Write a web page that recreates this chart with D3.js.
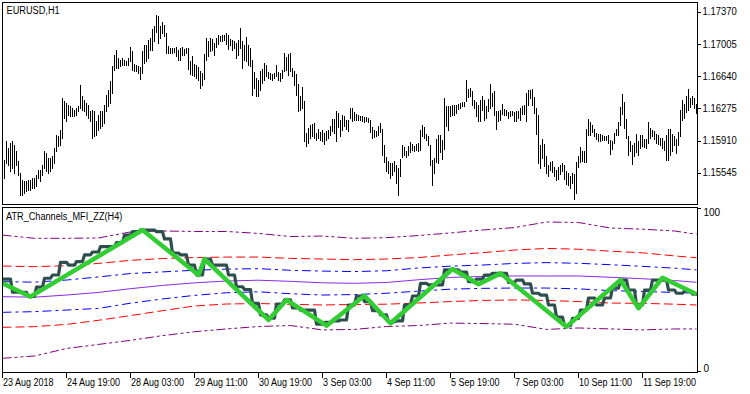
<!DOCTYPE html>
<html><head><meta charset="utf-8">
<script src="https://cdn.jsdelivr.net/npm/d3@7"></script>
<style>
html,body{margin:0;padding:0;background:#fff;}
svg{display:block;}
text{font-family:"Liberation Sans",Arial,sans-serif;font-size:10px;fill:#000;}
</style></head><body>
<svg id="c" width="750" height="394"></svg>
<script>
// ---------------- DATA ----------------
const symbolTitle = "EURUSD,H1";
const indicatorTitle = "ATR_Channels_MFI_ZZ(H4)";

// H1 bars (23 Aug 2018 11:00 ... 12 Sep 2018 21:00)
const highs = [
1.15718,1.15695,1.15911,1.15831,1.15888,1.15911,1.15865,1.15797,1.15684,1.15548,
1.15469,1.15457,1.15457,1.15469,1.15469,1.15491,1.15491,1.15525,1.15582,1.15582,
1.15639,1.15797,1.15775,1.15718,1.15718,1.15741,1.15831,1.15979,1.15967,1.16035,
1.16398,1.16364,1.16341,1.16319,1.16307,1.16285,1.16262,1.16285,1.16307,1.16545,
1.16421,1.16375,1.16341,1.16319,1.16251,1.16262,1.16251,1.16137,1.16205,1.16251,
1.16251,1.16319,1.16432,1.16489,1.16591,1.16761,1.16885,1.16942,1.16851,1.16829,
1.16851,1.16829,1.16817,1.16851,1.16976,1.16931,1.16783,1.16772,1.16761,1.16749,
1.16931,1.16999,1.16999,1.17056,1.17078,1.17180,1.17214,1.17339,1.17328,1.17214,
1.17260,1.17226,1.17135,1.16988,1.16965,1.16965,1.16965,1.16976,1.16942,1.16965,
1.16976,1.16954,1.16965,1.16965,1.16817,1.16874,1.16783,1.16772,1.16749,1.16704,
1.16681,1.16897,1.17078,1.17044,1.17078,1.17067,1.17022,1.17078,1.17112,1.17101,
1.17112,1.17112,1.17135,1.17112,1.17067,1.17056,1.17044,1.17022,1.17056,1.17192,
1.17044,1.16999,1.17090,1.16999,1.16965,1.16829,1.16693,1.16625,1.16602,1.16704,
1.16727,1.16795,1.16772,1.16693,1.16681,1.16670,1.16681,1.16772,1.16693,1.16681,
1.16715,1.16908,1.16863,1.16897,1.16908,1.16738,1.16704,1.16670,1.16557,1.16421,
1.16523,1.16364,1.16001,1.16058,1.16092,1.16103,1.16115,1.16001,1.16047,1.16013,
1.16035,1.16001,1.16024,1.16035,1.16081,1.16160,1.16160,1.16251,1.16228,1.16149,
1.16205,1.16194,1.16149,1.16149,1.16285,1.16285,1.16239,1.16217,1.16205,1.16194,
1.16194,1.16183,1.16183,1.16171,1.16149,1.16069,1.16035,1.16024,1.16081,1.16115,
1.16047,1.15865,1.15729,1.15684,1.15661,1.15661,1.15684,1.15639,1.15605,1.15707,
1.15865,1.15843,1.15797,1.15854,1.15899,1.15877,1.15854,1.15877,1.15888,1.16035,
1.16092,1.16069,1.15990,1.15967,1.15865,1.15695,1.15718,1.15933,1.15979,1.15979,
1.15922,1.16398,1.16307,1.16307,1.16307,1.16319,1.16319,1.16319,1.16330,1.16341,
1.16353,1.16353,1.16602,1.16500,1.16511,1.16477,1.16375,1.16353,1.16319,1.16375,
1.16421,1.16375,1.16307,1.16387,1.16557,1.16455,1.16477,1.16251,1.16251,1.16262,
1.16330,1.16273,1.16262,1.16239,1.16251,1.16251,1.16239,1.16251,1.16251,1.16285,
1.16307,1.16319,1.16455,1.16489,1.16489,1.16500,1.16409,1.16285,1.16205,1.15865,
1.15933,1.15877,1.15741,1.15639,1.15673,1.15684,1.15616,1.15582,1.15616,1.15639,
1.15661,1.15639,1.15571,1.15548,1.15514,1.15548,1.15537,1.15673,1.15741,1.15843,
1.15797,1.15797,1.16047,1.16160,1.16126,1.16092,1.16047,1.16001,1.15990,1.15990,
1.15979,1.15967,1.15967,1.15979,1.15922,1.15911,1.16001,1.16047,1.16126,1.16296,
1.16443,1.16353,1.16160,1.15967,1.15911,1.15865,1.15888,1.15990,1.15911,1.15979,
1.15979,1.15933,1.15933,1.16126,1.16058,1.16035,1.16024,1.15990,1.15979,1.15945,
1.15945,1.15911,1.15979,1.16047,1.16047,1.15990,1.15967,1.15933,1.16013,1.16262,
1.16375,1.16330,1.16421,1.16500,1.16398,1.16421,1.16398,1.16330];
const lows = [
1.15514,1.15491,1.15661,1.15639,1.15571,1.15605,1.15548,1.15639,1.15525,1.15299,
1.15299,1.15321,1.15344,1.15355,1.15355,1.15378,1.15378,1.15401,1.15491,1.15457,
1.15525,1.15605,1.15571,1.15548,1.15571,1.15605,1.15661,1.15797,1.15854,1.15865,
1.15945,1.16171,1.16137,1.16205,1.16194,1.16194,1.16194,1.16205,1.16251,1.16285,
1.16262,1.16251,1.16205,1.16171,1.16137,1.15945,1.15967,1.15979,1.16035,1.16058,
1.16081,1.16115,1.16251,1.16307,1.16341,1.16455,1.16715,1.16738,1.16738,1.16761,
1.16772,1.16772,1.16772,1.16772,1.16817,1.16715,1.16704,1.16704,1.16681,1.16613,
1.16681,1.16795,1.16817,1.16851,1.16942,1.16942,1.17044,1.17146,1.17022,1.17078,
1.17135,1.17101,1.16908,1.16908,1.16908,1.16908,1.16920,1.16874,1.16829,1.16829,
1.16885,1.16885,1.16908,1.16727,1.16670,1.16659,1.16647,1.16625,1.16602,1.16511,
1.16545,1.16613,1.16829,1.16874,1.16931,1.16942,1.16885,1.16976,1.17010,1.17044,
1.17044,1.17056,1.17010,1.16954,1.16999,1.16942,1.16965,1.16851,1.16885,1.16965,
1.16738,1.16829,1.16817,1.16772,1.16761,1.16432,1.16511,1.16421,1.16421,1.16489,
1.16568,1.16602,1.16647,1.16625,1.16613,1.16602,1.16625,1.16647,1.16602,1.16591,
1.16625,1.16704,1.16715,1.16659,1.16704,1.16647,1.16545,1.16432,1.16251,1.16262,
1.16285,1.15911,1.15854,1.15888,1.15945,1.15967,1.15945,1.15922,1.15945,1.15922,
1.15911,1.15877,1.15922,1.15945,1.15979,1.16024,1.16001,1.15911,1.16069,1.15967,
1.16035,1.16081,1.16047,1.16024,1.16171,1.16137,1.16149,1.16149,1.16149,1.16149,
1.16137,1.16126,1.16137,1.16126,1.16013,1.15945,1.15956,1.15967,1.15979,1.16013,
1.15752,1.15673,1.15571,1.15548,1.15491,1.15525,1.15571,1.15435,1.15299,1.15514,
1.15729,1.15752,1.15729,1.15752,1.15786,1.15809,1.15797,1.15809,1.15797,1.15809,
1.15967,1.15945,1.15922,1.15865,1.15639,1.15412,1.15548,1.15673,1.15661,1.15786,
1.15707,1.15820,1.16081,1.16035,1.16194,1.16205,1.16205,1.16228,1.16273,1.16285,
1.16307,1.16307,1.16364,1.16409,1.16421,1.16319,1.16285,1.16194,1.16137,1.16137,
1.16262,1.16149,1.16171,1.16251,1.16285,1.16307,1.16205,1.16047,1.16137,1.16149,
1.16217,1.16205,1.16205,1.16171,1.16194,1.16205,1.16137,1.16137,1.16171,1.16149,
1.16217,1.16217,1.16137,1.16319,1.16398,1.16319,1.16228,1.15990,1.15661,1.15605,
1.15718,1.15627,1.15548,1.15514,1.15582,1.15559,1.15514,1.15469,1.15480,1.15537,
1.15571,1.15480,1.15423,1.15412,1.15378,1.15435,1.15253,1.15321,1.15616,1.15673,
1.15684,1.15673,1.15673,1.15979,1.15979,1.16013,1.15967,1.15933,1.15911,1.15911,
1.15922,1.15922,1.15922,1.15888,1.15763,1.15820,1.15888,1.15979,1.15979,1.16092,
1.16217,1.16058,1.15945,1.15752,1.15797,1.15650,1.15741,1.15786,1.15752,1.15831,
1.15854,1.15843,1.15831,1.15888,1.15945,1.15967,1.15933,1.15888,1.15877,1.15865,
1.15831,1.15809,1.15695,1.15695,1.15752,1.15797,1.15865,1.15775,1.15865,1.15967,
1.16149,1.16171,1.16239,1.16262,1.16296,1.16330,1.16285,1.16228];

const priceTicks = [1.17370, 1.17005, 1.16640, 1.16275, 1.15910, 1.15545];
const timeTickIdx = [0, 32, 64, 96, 128, 160, 192, 224, 256, 288, 320];
const timeTickLabels = ["23 Aug 2018","24 Aug 19:00","28 Aug 03:00","29 Aug 11:00","30 Aug 19:00",
  "3 Sep 03:00","4 Sep 11:00","5 Sep 19:00","7 Sep 03:00","10 Sep 11:00","11 Sep 19:00"];

// ATR channels (bar index of each sample)
const chanIdx     = [0,16,32,48,64,80,96,112,128,144,160,176,192,208,224,240,256,272,288,304,320,336,347];
const midLine     = [45.6,45.3,46.6,48.2,50.5,52.5,54.1,55.2,55.7,55.0,54.1,53.8,54.3,56.0,57.4,58.0,58.3,58.3,58.3,57.5,56.6,55.5,54.4];
const upperBlue   = [54.8,54.5,55.8,57.7,59.8,60.8,61.8,62.5,62.8,61.8,61.3,61.0,61.5,63.2,64.3,65.0,66.0,66.5,66.1,65.2,64.2,63.1,62.0];
const lowerBlue   = [36.0,36.4,37.4,38.4,41.6,44.2,46.4,48.0,48.6,47.4,46.6,46.9,47.7,49.0,50.2,50.7,50.9,50.9,50.4,49.3,48.8,48.2,47.7];
const upperRed    = [64.4,64.0,64.6,66.0,67.9,69.0,69.6,69.9,69.9,69.1,68.7,68.3,68.7,69.6,71.2,72.6,74.2,75.2,74.7,73.5,72.5,70.6,69.5];
const lowerRed    = [26.8,27.2,28.6,31.1,34.0,37.0,39.9,41.1,41.4,40.9,40.5,40.8,41.0,41.7,42.6,43.3,43.6,43.3,42.6,41.7,41.5,41.0,40.5];
const upperPurple = [83.4,81.4,81.4,81.6,85.3,85.9,85.6,85.6,84.4,82.5,82.8,81.4,81.8,83.1,84.7,86.5,88.0,91.4,91.1,87.7,87.0,85.9,83.9];
const lowerPurple = [7.8,9.2,13.8,16.3,18.8,21.7,24.1,25.8,27.3,27.9,25.2,25.5,27.3,27.9,29.4,29.1,28.7,25.5,26.4,25.8,25.2,25.8,25.8];

// MFI values of the H4 bars (first H4 bar holds one H1 bar, then 4 H1 bars each)
const mfiH4 = [
56.4,56.4,48.3,48.2,45.7,51.5,56.9,58.9,66.7,65.0,
67.1,71.2,73.0,76.3,76.3,78.8,83.4,85.5,86.5,86.5,
85.5,81.0,72.4,71.2,65.0,58.9,68.7,65.0,65.0,58.9,
51.7,50.0,41.5,34.4,32.5,41.1,43.6,38.7,37.4,37.4,
28.8,29.8,30.7,31.3,40.5,46.0,42.5,37.1,34.4,30.1,
30.7,40.5,46.0,53.8,52.8,52.8,62.0,62.0,60.7,54.8,
56.4,58.9,59.9,59.9,54.4,55.8,53.4,47.7,46.6,40.5,
33.1,27.8,32.3,37.4,44.8,40.5,44.8,50.9,55.8,49.7,
40.5,49.7,55.8,55.8,49.7,47.7,49.1,47.2];

// ZigZag vertices on the MFI
const zzIdx = [0,14,70,98,101,133,142,162,181,194,225,238,249,282,309,318,330,347];
const zzVal = [53.8,45.6,86.5,58.9,68.7,31.3,43.6,27.8,46.2,29.3,62.6,53.2,59.9,27.2,55.8,38.5,57.2,47.1];
const indTicks = [0, 100];

// ---------------- DRAW ----------------
const svg = d3.select("#c");
const x  = d3.scaleLinear().domain([0, 347]).range([2.5, 696.5]);
const yP = d3.scaleLinear().domain([1.17509, 1.15208]).range([0, 203]);
const yI = d3.scaleLinear().domain([0, 100]).range([371, 208]);

const defs = svg.append("defs");
defs.append("clipPath").attr("id","cpTop").append("rect").attr("x",2).attr("y",3).attr("width",695).attr("height",201);
defs.append("clipPath").attr("id","cpBot").append("rect").attr("x",3).attr("y",208).attr("width",694).attr("height",164);

function squeeze(sel, f){
  sel.each(function(){
    const w = this.getComputedTextLength();
    this.setAttribute("textLength", (w*f).toFixed(1));
    this.setAttribute("lengthAdjust","spacingAndGlyphs");
  });
}

// price bars
svg.append("g").attr("clip-path","url(#cpTop)")
  .selectAll("rect").data(highs).join("rect")
  .attr("x", (d,i) => Math.round(x(i) - 0.5))
  .attr("width", 1)
  .attr("y", d => Math.round(yP(d)))
  .attr("height", (d,i) => Math.max(1, Math.round(yP(lows[i])) - Math.round(yP(d)) + 1))
  .attr("fill", "#000");

// indicator lines
const gi = svg.append("g").attr("clip-path","url(#cpBot)");
const chanLine = d3.line().x((d,k) => x(chanIdx[k])).y(d => yI(d));
const chans = [
  {v: lowerPurple, c: "#800080", dash: "9,3,3,3,3,3"},
  {v: upperPurple, c: "#800080", dash: "9,3,3,3,3,3"},
  {v: lowerRed,    c: "#ff0000", dash: "9,4"},
  {v: upperRed,    c: "#ff0000", dash: "9,4"},
  {v: lowerBlue,   c: "#0000ff", dash: "9,4,3,4"},
  {v: upperBlue,   c: "#0000ff", dash: "9,4,3,4"},
  {v: midLine,     c: "#8a2be2", dash: null}
];
chans.forEach(ch => {
  gi.append("path").attr("d", chanLine(ch.v))
    .attr("fill","none").attr("stroke", ch.c).attr("stroke-width", 1)
    .attr("stroke-dasharray", ch.dash);
});

// MFI: each H1 bar takes the value of its H4 bar
const mfiLine = d3.line().x(i => x(i)).y(i => yI(mfiH4[Math.ceil(i/4)]));
gi.append("path").attr("d", mfiLine(d3.range(highs.length)))
  .attr("fill","none").attr("stroke","#2f4f4f").attr("stroke-width",3.2)
  .attr("stroke-linejoin","round").attr("stroke-linecap","round");

// ZigZag
const zzLine = d3.line().x((d,k) => x(zzIdx[k])).y(d => yI(d));
gi.append("path").attr("d", zzLine(zzVal))
  .attr("fill","none").attr("stroke","#32cd32").attr("stroke-width",4.5)
  .attr("stroke-linejoin","round");

// frames
svg.append("path").attr("d","M2.5,2.5H697.5V204.5H2.5Z M2.5,207.5H697.5V372.5H2.5Z")
  .attr("fill","none").attr("stroke","#000").attr("shape-rendering","crispEdges");

// price axis
const ap = svg.append("g").attr("transform","translate(697.5,0)")
  .call(d3.axisRight(yP).tickValues(priceTicks).tickFormat(d3.format(".5f")).tickSize(3).tickPadding(2).offset(0));
ap.select(".domain").remove();
ap.selectAll("line").attr("stroke","#000").attr("shape-rendering","crispEdges");
ap.selectAll("text").attr("font-family",null).attr("font-size",null).attr("fill","#000");
squeeze(ap.selectAll("text"), 0.95);

// indicator axis
const ai = svg.append("g").attr("transform","translate(697.5,0)")
  .call(d3.axisRight(yI).tickValues(indTicks).tickSize(3).tickPadding(3).offset(0));
ai.select(".domain").remove();
ai.selectAll("line").attr("stroke","#000").attr("shape-rendering","crispEdges");
ai.selectAll("text").attr("font-family",null).attr("font-size",null).attr("fill","#000")
  .attr("dy", d => d === 100 ? "0.75em" : "0.05em");

// time axis
const at = svg.append("g").attr("transform","translate(0,372.5)")
  .call(d3.axisBottom(x).tickValues(timeTickIdx).tickFormat((d,k) => timeTickLabels[k]).tickSize(5).offset(0));
at.select(".domain").remove();
at.selectAll("line").attr("stroke","#000").attr("shape-rendering","crispEdges");
at.selectAll("text").attr("font-family",null).attr("font-size",null).attr("fill","#000")
  .attr("text-anchor","start").attr("x",0.5).attr("y",6).attr("dy","0.71em");
squeeze(at.selectAll("text"), 0.9);

// titles
const t1 = svg.append("text").attr("x",6.5).attr("y",14).text(symbolTitle);
const t2 = svg.append("text").attr("x",6).attr("y",220).text(indicatorTitle);
squeeze(t1, 0.92); squeeze(t2, 0.915);
</script>
</body></html>
